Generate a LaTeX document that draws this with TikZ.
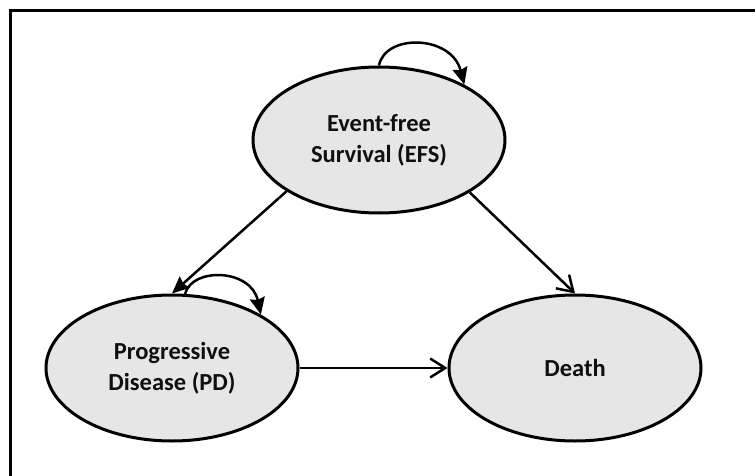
\documentclass[tikz,border=0pt]{standalone}
\usepackage{fontspec}
\setmainfont{Carlito}
\usetikzlibrary{shapes.geometric,arrows.meta,calc}
\definecolor{statefill}{RGB}{230,230,230}
\definecolor{textdark}{RGB}{15,15,15}
\tikzset{
  state/.style={ellipse, draw=black, line width=3pt, fill=statefill,
    minimum width=252pt, minimum height=146pt, inner sep=0pt, align=center,
    text=textdark, font=\bfseries\fontsize{24.5}{31}\selectfont},
  solidarrow/.style={line width=2.5pt, -{Stealth[length=17pt,width=15pt,inset=2pt]}},
  openarrow/.style={line width=2.5pt, -{Straight Barb[length=15pt,width=19pt,line width=2.5pt]}},
  frameline/.style={line width=3pt}
}
\begin{document}
\begin{tikzpicture}[x=1pt,y=-1pt]
\useasboundingbox (0,0) rectangle (755,476);
\draw[frameline] (10.5,476) -- (10.5,10.5) -- (755,10.5);
\node[state] (EFS) at (379,140) {Event-free\\Survival (EFS)};
\node[state] (PD) at (172,368) {Progressive\\Disease (PD)};
\node[state] (D) at (575,368) {Death};
\draw[solidarrow] (EFS.209) -- (PD.north);
\draw[openarrow] (EFS.330) -- (D.north);
\draw[openarrow] (PD.east) -- (D.west);
\draw[solidarrow] (EFS.north) .. controls ($(EFS.north)+(6,-32)$) and ($(EFS.33)+(-13,-50)$) .. (EFS.33);
\draw[solidarrow] (PD.80) .. controls ($(PD.80)+(7,-27)$) and ($(PD.31)+(-10,-46)$) .. (PD.31);
\end{tikzpicture}
\end{document}
